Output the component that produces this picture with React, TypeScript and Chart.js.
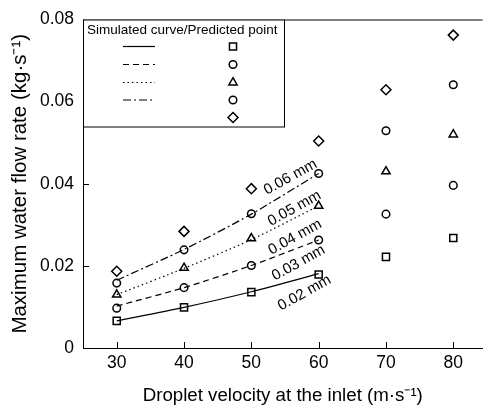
import React, { useEffect, useRef } from 'react';
import { Chart, registerables } from 'chart.js';
import { drawPoint } from 'chart.js/helpers';

Chart.register(...registerables);

// ---- data ----
const velocities = [30, 40, 50, 60, 70, 80];
const simVelocities = [30, 40, 50, 60];
const xTicks = [30, 40, 50, 60, 70, 80];
const yTicks = [0, 0.02, 0.04, 0.06, 0.08];

// predicted points
const pred002 = [0.0066, 0.0099, 0.0136, 0.0179, 0.0222, 0.0268]; // squares
const pred003 = [0.0097, 0.0147, 0.0201, 0.0263, 0.0326, 0.0396]; // circles
const pred004 = [0.0130, 0.0195, 0.0267, 0.0346, 0.0430, 0.0520]; // triangles
const pred005 = [0.0158, 0.0239, 0.0327, 0.0425, 0.0529, 0.0641]; // circles
const pred006 = [0.0187, 0.0284, 0.0388, 0.0504, 0.0629, 0.0762]; // diamonds

// simulated curves
const simSolid = [0.0066, 0.0099, 0.0137, 0.0181];
const simDashed = [0.0102, 0.0147, 0.0201, 0.0263];
const simDotted = [0.0130, 0.0194, 0.0264, 0.0346];
const simDashDot = [0.0165, 0.0240, 0.0326, 0.0425];

// curve annotations (anchored in data coordinates)
const curveLabels = ['0.06 mm', '0.05 mm', '0.04 mm', '0.03 mm', '0.02 mm'];
const curveLabelX = [55.8, 56.4, 56.5, 57.0, 57.9];
const curveLabelY = [0.0416, 0.0340, 0.0270, 0.0207, 0.0134];

const legendTitle = 'Simulated curve/Predicted point';
const xTitle = 'Droplet velocity at the inlet (m\u00b7s\u207b\u00b9)';
const yTitle = 'Maximum water flow rate (kg\u00b7s\u207b\u00b9)';

const FONT = '"Liberation Sans", Arial, Helvetica, sans-serif';

const toXY = (xs: number[], ys: number[]) => ys.map((y, i) => ({ x: xs[i], y }));

const lineStyles: { dash: number[] }[] = [
  { dash: [] },
  { dash: [6, 4] },
  { dash: [1.5, 3] },
  { dash: [8, 3, 2, 3] },
];
const markerStyles = [
  { style: 'rect', r: 5 },
  { style: 'circle', r: 3.8 },
  { style: 'triangle', r: 4.8 },
  { style: 'circle', r: 3.8 },
  { style: 'rectRot', r: 5 },
];

const decorPlugin = {
  id: 'decor',
  afterDraw(chart: any) {
    const { ctx, chartArea, scales } = chart;
    const { left, right, top, bottom } = chartArea;
    const xs = scales.x;
    const ys = scales.y;
    ctx.save();
    ctx.strokeStyle = '#000';
    ctx.lineWidth = 1;
    // top border
    ctx.beginPath();
    ctx.moveTo(left, top + 0.5);
    ctx.lineTo(right, top + 0.5);
    ctx.stroke();
    // inward ticks
    ctx.beginPath();
    xTicks.forEach((v) => {
      const px = Math.round(xs.getPixelForValue(v)) + 0.5;
      ctx.moveTo(px, bottom);
      ctx.lineTo(px, bottom - 6);
    });
    yTicks.forEach((v) => {
      const py = Math.round(ys.getPixelForValue(v)) + 0.5;
      ctx.moveTo(left, py);
      ctx.lineTo(left + 6, py);
    });
    ctx.stroke();

    // curve labels
    ctx.fillStyle = '#000';
    ctx.font = `15px ${FONT}`;
    ctx.textAlign = 'center';
    ctx.textBaseline = 'middle';
    curveLabels.forEach((t, i) => {
      const px = xs.getPixelForValue(curveLabelX[i]);
      const py = ys.getPixelForValue(curveLabelY[i]);
      ctx.save();
      ctx.translate(px, py);
      ctx.rotate((-29 * Math.PI) / 180);
      ctx.fillText(t, 0, 0);
      ctx.restore();
    });

    // legend box
    const bx = left;
    const by = top;
    const bw = 201;
    const bh = 107;
    ctx.fillStyle = '#fff';
    ctx.fillRect(bx, by, bw, bh);
    ctx.strokeRect(bx + 0.5, by + 0.5, bw, bh);
    ctx.fillStyle = '#000';
    ctx.font = `13.5px ${FONT}`;
    ctx.textAlign = 'left';
    ctx.textBaseline = 'middle';
    ctx.fillText(legendTitle, bx + 4, by + 11);
    const rowY = [27, 45, 63, 80.5, 98];
    lineStyles.forEach((ls, i) => {
      ctx.save();
      ctx.lineWidth = 1.2;
      ctx.setLineDash(ls.dash);
      ctx.beginPath();
      ctx.moveTo(bx + 40, by + rowY[i]);
      ctx.lineTo(bx + 72, by + rowY[i]);
      ctx.stroke();
      ctx.restore();
    });
    markerStyles.forEach((m, i) => {
      ctx.save();
      ctx.lineWidth = 1.5;
      ctx.strokeStyle = '#000';
      ctx.fillStyle = '#fff';
      drawPoint(ctx, { pointStyle: m.style, radius: m.r, rotation: 0, borderWidth: 1.5 }, bx + 150, by + rowY[i]);
      ctx.restore();
    });
    ctx.restore();
  },
};

export default function App() {
  const ref = useRef<HTMLCanvasElement>(null);
  useEffect(() => {
    if (!ref.current) return;
    const preds = [pred002, pred003, pred004, pred005, pred006];
    const sims = [simSolid, simDashed, simDotted, simDashDot];
    const datasets: any[] = [];
    sims.forEach((s, i) => {
      datasets.push({
        type: 'line',
        data: toXY(simVelocities, s),
        borderColor: '#000',
        borderWidth: 1.2,
        borderDash: lineStyles[i].dash,
        pointRadius: 0,
        showLine: true,
        fill: false,
        tension: 0.25,
      });
    });
    preds.forEach((p, i) => {
      datasets.push({
        type: 'scatter',
        data: toXY(velocities, p),
        showLine: false,
        pointStyle: markerStyles[i].style,
        pointRadius: markerStyles[i].r,
        pointBorderWidth: 1.5,
        pointBorderColor: '#000',
        pointBackgroundColor: '#fff',
      });
    });
    const chart = new Chart(ref.current, {
      type: 'scatter',
      data: { datasets },
      options: {
        animation: false,
        responsive: false,
        layout: { padding: { top: 17, right: 0, left: 0, bottom: 0 } },
        plugins: { legend: { display: false }, tooltip: { enabled: false } },
        scales: {
          x: {
            type: 'linear',
            min: 24.99,
            max: 84.34,
            afterBuildTicks: (s: any) => {
              s.ticks = xTicks.map((v) => ({ value: v }));
            },
            afterFit: (s: any) => {
              s.height = 58;
            },
            grid: { display: false, drawTicks: false },
            border: { display: true, color: '#000', width: 1 },
            ticks: {
              color: '#000',
              font: { family: FONT, size: 17.5 },
              padding: 5,
              maxRotation: 0,
              callback: (v: any) => String(v),
            },
            title: {
              display: true,
              text: xTitle,
              color: '#000',
              font: { family: FONT, size: 18.7 },
              padding: { top: 0, bottom: -1 },
            },
          },
          y: {
            type: 'linear',
            min: 0,
            max: 0.08,
            afterBuildTicks: (s: any) => {
              s.ticks = yTicks.map((v) => ({ value: v }));
            },
            afterFit: (s: any) => {
              s.width = 83;
            },
            grid: { display: false, drawTicks: false },
            border: { display: true, color: '#000', width: 1 },
            ticks: {
              color: '#000',
              font: { family: FONT, size: 17.5 },
              padding: 9,
              callback: (v: any) => (v === 0 ? '0' : Number(v).toFixed(2)),
            },
            title: {
              display: true,
              text: yTitle,
              color: '#000',
              font: { family: FONT, size: 20.5 },
              padding: { top: 8, bottom: 0 },
            },
          },
        },
      } as any,
      plugins: [decorPlugin],
    });
    return () => chart.destroy();
  }, []);
  return (
    <div style={{ position: 'absolute', left: 0, top: 0, width: 489, height: 406, background: '#fff' }}>
      <canvas ref={ref} width={489} height={406} style={{ display: 'block' }} />
    </div>
  );
}
